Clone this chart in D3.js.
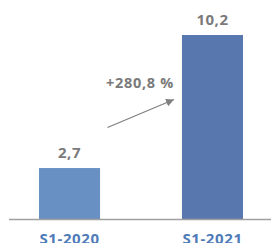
<!DOCTYPE html>
<html><head><meta charset="utf-8">
<script src="https://cdn.jsdelivr.net/npm/d3@7"></script>
<style>html,body{margin:0;padding:0;background:#fff;overflow:hidden}</style>
</head><body>
<script>
const categories = ["S1-2020", "S1-2021"];
const values = [2.7, 10.2];
const valueLabels = ["2,7", "10,2"];
const growthLabel = "+280,8 %";
const barColors = ["#6890c3", "#5877af"];

const W = 271, H = 243;
const svg = d3.select("body").append("svg").attr("width", W).attr("height", H);
const font = "'Open Sans', Arial, sans-serif";

const x = d3.scaleBand().domain(categories).range([39, 243]).paddingInner(0.573).paddingOuter(0);
const y = d3.scaleLinear().domain([-0.2, 10.2]).range([219.5, 35]);

svg.selectAll("rect.bar").data(values).enter().append("rect")
  .attr("x", (d, i) => x(categories[i]))
  .attr("width", x.bandwidth())
  .attr("y", d => y(d))
  .attr("height", d => y(-0.2) - y(d))
  .attr("fill", (d, i) => barColors[i]);

svg.append("line").attr("x1", 9).attr("x2", W).attr("y1", 219.5).attr("y2", 219.5)
  .attr("stroke", "#a0a0a0").attr("stroke-width", 1.5);

svg.selectAll("text.val").data(values).enter().append("text")
  .attr("x", (d, i) => x(categories[i]) + x.bandwidth() / 2)
  .attr("y", d => y(d) - 10.5)
  .attr("text-anchor", "middle")
  .attr("font-family", font).attr("font-weight", 700).attr("font-size", 15)
  .attr("letter-spacing", 0.5)
  .attr("fill", "#7a7a7a")
  .text((d, i) => valueLabels[i]);

svg.selectAll("text.cat").data(categories).enter().append("text")
  .attr("x", d => x(d) + x.bandwidth() / 2)
  .attr("y", 244)
  .attr("text-anchor", "middle")
  .attr("font-family", font).attr("font-weight", 700).attr("font-size", 15)
  .attr("letter-spacing", 0.6)
  .attr("fill", "#4f7bb8")
  .text(d => d);

// growth arrow
const defs = svg.append("defs");
defs.append("marker").attr("id", "ah").attr("viewBox", "0 0 10 10")
  .attr("refX", 10).attr("refY", 5).attr("markerWidth", 8).attr("markerHeight", 8)
  .attr("markerUnits", "userSpaceOnUse").attr("orient", "auto")
  .append("path").attr("d", "M0,0L10,5L0,10Z").attr("fill", "#808080");
svg.append("line").attr("x1", 107.5).attr("y1", 127.5).attr("x2", 174).attr("y2", 99.5)
  .attr("stroke", "#808080").attr("stroke-width", 1.3).attr("marker-end", "url(#ah)");
svg.append("text").attr("x", 106).attr("y", 88.3).attr("text-anchor", "start")
  .attr("font-family", font).attr("font-weight", 700).attr("font-size", 14.5)
  .attr("letter-spacing", 0.7)
  .attr("fill", "#7a7a7a").text(growthLabel);
</script>
</body></html>
